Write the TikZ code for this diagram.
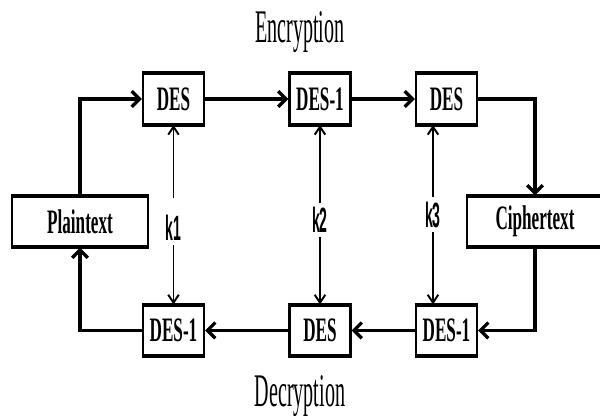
\documentclass[tikz,border=0pt]{standalone}
\usepackage{fontspec}
\setmainfont[FakeStretch=0.5]{Liberation Serif}
\setsansfont[FakeStretch=0.4]{Liberation Sans}
\newfontfamily\titlefont[FakeStretch=0.43]{Liberation Serif}
\usetikzlibrary{arrows.meta,positioning}

\tikzset{
  block/.style={draw, line width=1.2pt, inner sep=0pt,
    minimum width=1.22cm, minimum height=1cm,
    font=\fontsize{19.5}{19.5}\selectfont\bfseries,
    append after command={
      (\tikzlastnode.north west) edge[line width=1.9pt] (\tikzlastnode.north east)
      (\tikzlastnode.south west) edge[line width=1.9pt] (\tikzlastnode.south east)}},
  wide/.style={block, minimum width=2.72cm},
  keylab/.style={font=\sffamily\bfseries\fontsize{20}{20}\selectfont, inner sep=2.5pt},
  title/.style={font=\titlefont\fontsize{26.6}{26.6}\selectfont},
  flow/.style={line width=1.9pt, -{Straight Barb[length=4.5pt,width=9pt]}},
  key/.style={line width=1.1pt, -{Straight Barb[length=4.5pt,width=6pt]}}
}

\begin{document}
\begin{tikzpicture}[x=0.02cm, y=-0.02cm, node distance=4.63cm, on grid]
   \useasboundingbox (0,0) rectangle (600,419);
   \node[title] (enc) at (300,32.5) {Encryption};
   \node[title] (dec) at (300,396) {Decryption};
   % encryption row
   \node[block] (e1) at (173.5,99) {DES};
   \node[block] (e2) at (320,99) {DES-1};
   \node[block] (e3) at (446.5,99) {DES};
   % decryption row
   \node[block] (d1) [below=of e1] {DES-1};
   \node[block] (d2) [below=of e2] {DES};
   \node[block] (d3) [below=of e3] {DES-1};
   \node[wide] (plain) at (80,221.5) {Plaintext};
   \node[wide] (cipher) at (535,221.5) {Ciphertext};
   % keys
   \node[keylab] (k1) at (173.5,228) {k1};
   \node[keylab] (k2) at (320,220) {k2};
   \node[keylab] (k3) at (433,214.5) {k3};
    \draw[flow] (plain.north) |- (e1.west);
    \draw[flow] (e1) -- (e2);
    \draw[flow] (e2) -- (e3);
    \draw[flow] (e3.east) -| (cipher.north);
    \draw[flow] (cipher.south) |- (d3.east);
    \draw[flow] (d3) -- (d2);
    \draw[flow] (d2) -- (d1);
    \draw[flow] (d1.west) -| (plain.south);
    \draw[key, shorten <=7pt] (k1) -- (e1);
    \draw[key] (k1) -- (d1);
    \draw[key] (k2) -- (e2);
    \draw[key] (k2) -- (d2);
    \draw[key] (k3) -- (k3 |- e3.south);
    \draw[key] (k3) -- (k3 |- d3.north);
\end{tikzpicture}
\end{document}
